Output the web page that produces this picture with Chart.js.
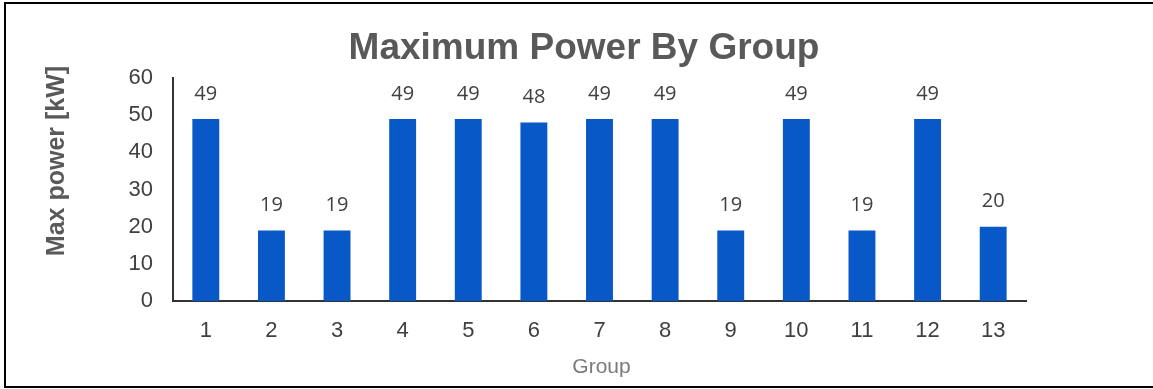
<!DOCTYPE html>
<html>
<head>
<meta charset="utf-8">
<script src="https://cdn.jsdelivr.net/npm/chart.js@4/dist/chart.umd.min.js"></script>
<style>
  html, body { margin: 0; padding: 0; background: #fff; overflow: hidden; }
  #wrap { position: relative; width: 1153px; height: 389px; }
  #frame {
    position: absolute; left: 4px; top: 2px; width: 1200px; height: 382px;
    border-left: 2px solid #000; border-top: 2px solid #000; border-bottom: 2px solid #000;
    pointer-events: none;
  }
  canvas { position: absolute; left: 0; top: 0; }
</style>
</head>
<body>
<div id="wrap">
  <canvas id="c" width="1153" height="389"></canvas>
  <div id="frame"></div>
</div>
<script>
// Group numbers along the x axis
const groups = ['1', '2', '3', '4', '5', '6', '7', '8', '9', '10', '11', '12', '13'];
// Maximum power per group, kW
const maxPower = [49, 19, 19, 49, 49, 48, 49, 49, 19, 49, 19, 49, 20];
// Y axis range and step
const yTicks = [0, 10, 20, 30, 40, 50, 60];

const chartTitle = 'Maximum Power By Group';
const yTitle = 'Max power [kW]';
const xTitle = 'Group';

const SANS = '"Liberation Sans", Arial, sans-serif';

// Title, axis titles and value labels drawn on top of the chart
const textPlugin = {
  id: 'texts',
  afterDraw(chart) {
    const ctx = chart.ctx;
    const area = chart.chartArea;
    ctx.save();

    ctx.fillStyle = '#595959';
    ctx.font = 'bold 37px ' + SANS;
    ctx.textAlign = 'center';
    ctx.textBaseline = 'alphabetic';
    ctx.fillText(chartTitle, 584, 59);

    ctx.font = '21px ' + SANS;
    ctx.fillStyle = '#7a7a7a';
    ctx.textBaseline = 'middle';
    ctx.fillText(xTitle, (area.left + area.right) / 2 + 2, 367);

    ctx.save();
    ctx.translate(57, 161);
    ctx.rotate(-Math.PI / 2);
    ctx.font = 'bold 25px ' + SANS;
    ctx.fillStyle = '#595959';
    ctx.fillText(yTitle, 0, 0);
    ctx.restore();

    ctx.font = '20px "Open Sans", ' + SANS;
    ctx.fillStyle = '#404040';
    ctx.textBaseline = 'middle';
    const meta = chart.getDatasetMeta(0);
    meta.data.forEach((bar, i) => {
      ctx.fillText(String(maxPower[i]), bar.x, bar.y - 25);
    });
    ctx.restore();
  }
};

new Chart(document.getElementById('c'), {
  type: 'bar',
  data: {
    labels: groups,
    datasets: [{
      data: maxPower,
      backgroundColor: '#0858c8',
      borderWidth: 0,
      categoryPercentage: 1,
      barPercentage: 0.41
    }]
  },
  options: {
    responsive: false,
    animation: false,
    devicePixelRatio: 1,
    layout: { padding: { left: 0, right: 127, top: 78, bottom: 0 } },
    plugins: { legend: { display: false }, tooltip: { enabled: false } },
    scales: {
      x: {
        grid: { display: false, drawTicks: false },
        border: { display: true, color: '#333', width: 2 },
        ticks: { color: '#404040', font: { family: SANS, size: 22 }, padding: 17, maxRotation: 0 },
        afterFit(scale) { scale.height = 88; }
      },
      y: {
        min: yTicks[0],
        max: yTicks[yTicks.length - 1],
        grid: { display: false, drawTicks: false },
        border: { display: true, color: '#333', width: 2 },
        afterBuildTicks(scale) { scale.ticks = yTicks.map(v => ({ value: v })); },
        ticks: { color: '#404040', font: { family: SANS, size: 22 }, padding: 20 },
        afterFit(scale) { scale.width = 173; }
      }
    }
  },
  plugins: [textPlugin]
});
</script>
</body>
</html>
